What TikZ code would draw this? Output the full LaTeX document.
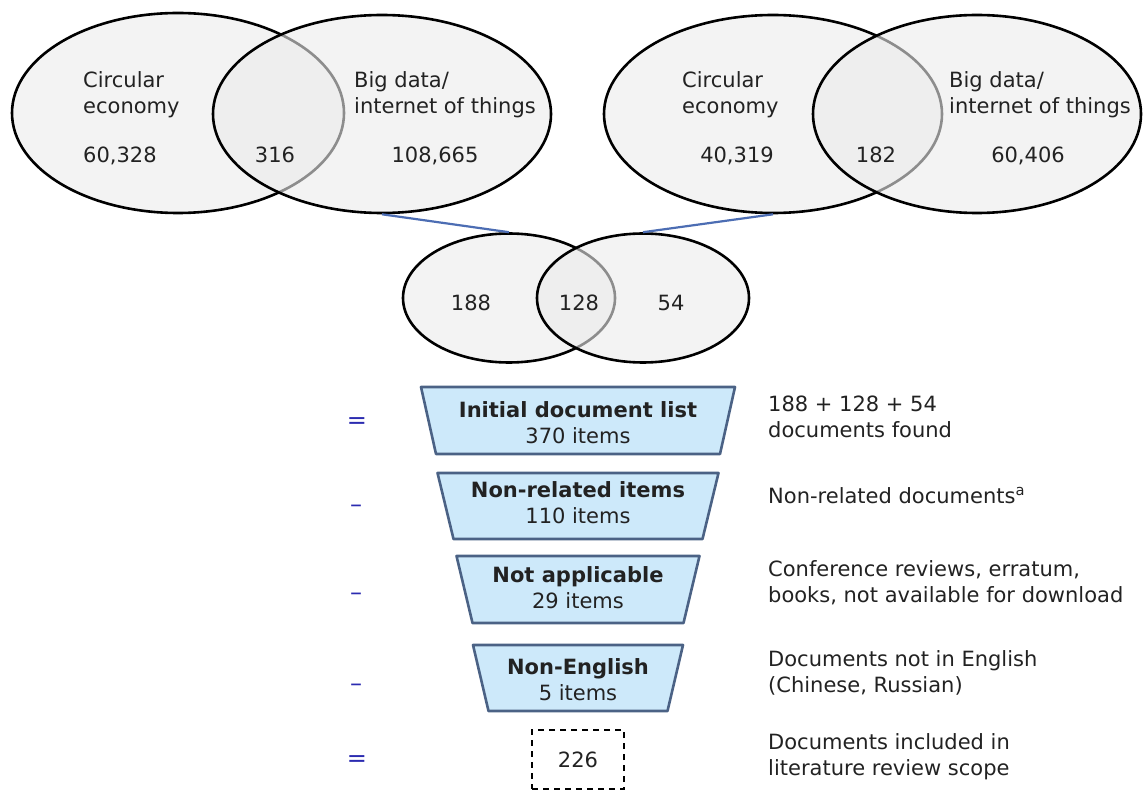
\documentclass[tikz,border=0pt]{standalone}
\usepackage{fontspec}
\setmainfont{DejaVu Sans}
\usetikzlibrary{shapes.geometric}
\definecolor{venngray}{HTML}{F3F3F3}
\definecolor{vennfront}{HTML}{EBEBEB}
\definecolor{funfill}{HTML}{CDE9FA}
\definecolor{funline}{HTML}{4B6285}
\definecolor{linkblue}{HTML}{4C6DB3}
\definecolor{signblue}{HTML}{2B2BB0}
\definecolor{txt}{HTML}{222222}
\newcommand{\lblfont}{\fontsize{21}{26}\selectfont}
\newcommand{\funnelbox}[4]{\draw[funnel] (578-#3,#1) -- (578+#3,#1) -- (578+#4,#2) -- (578-#4,#2) -- cycle;}
\tikzset{
  venn/.style={ellipse, draw=black, line width=2.6pt, fill=venngray, inner sep=0pt},
  vennfront/.style={venn, fill=vennfront, fill opacity=0.6},
  lbl/.style={inner sep=0pt, align=left, anchor=north west, text=txt},
  num/.style={inner sep=0pt, anchor=base, text=txt},
  funnel/.style={draw=funline, line width=2.6pt, fill=funfill, line join=round},
  funtext/.style={inner sep=0pt, align=center, text=txt},
  sign/.style={inner sep=0pt, text=signblue, font=\fontsize{24}{26}\selectfont},
  link/.style={draw=linkblue, line width=2.2pt}
}

\begin{document}
\begin{tikzpicture}[x=1pt, y=-1pt, font=\lblfont]
\useasboundingbox (0,0) rectangle (1143,791);

% first search
\node[venn, minimum width=332pt, minimum height=200pt] (ceA) at (178,113) {};
\node[vennfront, minimum width=338pt, minimum height=198pt] (iotA) at (382,114) {};
\node[lbl] (ceAt) at (83,71) {Circular\\economy};
\node[lbl] (iotAt) at (354,71) {Big data/\\internet of things};
\node[num, anchor=base west] (ceAn) at (83,163) {60,328};
\node[num] (bothA) at (275,163) {316};
\node[num] (iotAn) at (435,163) {108,665};

% second search
\node[venn, minimum width=338pt, minimum height=198pt] (ceB) at (773,114) {};
\node[vennfront, minimum width=328pt, minimum height=198pt] (iotB) at (977,114) {};
\node[lbl] (ceBt) at (682,71) {Circular\\economy};
\node[lbl] (iotBt) at (949,71) {Big data/\\internet of things};
\node[num] (ceBn) at (737,163) {40,319};
\node[num] (bothB) at (876,163) {182};
\node[num] (iotBn) at (1028,163) {60,406};

% merged
\node[venn, minimum width=212pt, minimum height=129pt] (selA) at (509,298) {};
\node[vennfront, minimum width=212pt, minimum height=129pt] (selB) at (643,298) {};
\node[num] (onlyA) at (471,311) {188};
\node[num] (both) at (579,311) {128};
\node[num] (onlyB) at (671,311) {54};

\draw[link] (iotA.south) -- (selA.north);
\draw[link] (selB.north) -- (ceB.south);

% funnel
\funnelbox{387}{454}{157}{142}
\funnelbox{473}{539}{140.5}{124.5}
\funnelbox{556}{623}{121.5}{105.5}
\funnelbox{645}{711}{105}{89.5}

\node[funtext] (init) at (578,423) {\textbf{Initial document list}\\370 items};
\node[funtext] (unrel) at (578,503) {\textbf{Non-related items}\\110 items};
\node[funtext] (notapp) at (578,588) {\textbf{Not applicable}\\29 items};
\node[funtext] (noneng) at (578,680) {\textbf{Non-English}\\5 items};
\node[draw=black, line width=2.6pt, dash pattern=on 6pt off 5pt, minimum width=92pt,
  minimum height=59pt, inner sep=0pt, text=txt] (result) at (578,759.5) {226};

\node[sign] (s1) at (357,423) {=};
\node[sign] (s2) at (356,509) {–};
\node[sign] (s3) at (356,597) {–};
\node[sign] (s4) at (356,688) {–};
\node[sign] (s5) at (357,761) {=};

\node[lbl] (n1) at (768,396) {188 + 128 + 54\\documents found};
\node[lbl] (n2) at (768,487) {Non-related documents\textsuperscript{a}};
\node[lbl] (n3) at (768,560) {Conference reviews, erratum,\\books, not available for download};
\node[lbl] (n4) at (768,650) {Documents not in English\\(Chinese, Russian)};
\node[lbl] (n5) at (768,733) {Documents included in\\literature review scope};

\end{tikzpicture}
\end{document}
